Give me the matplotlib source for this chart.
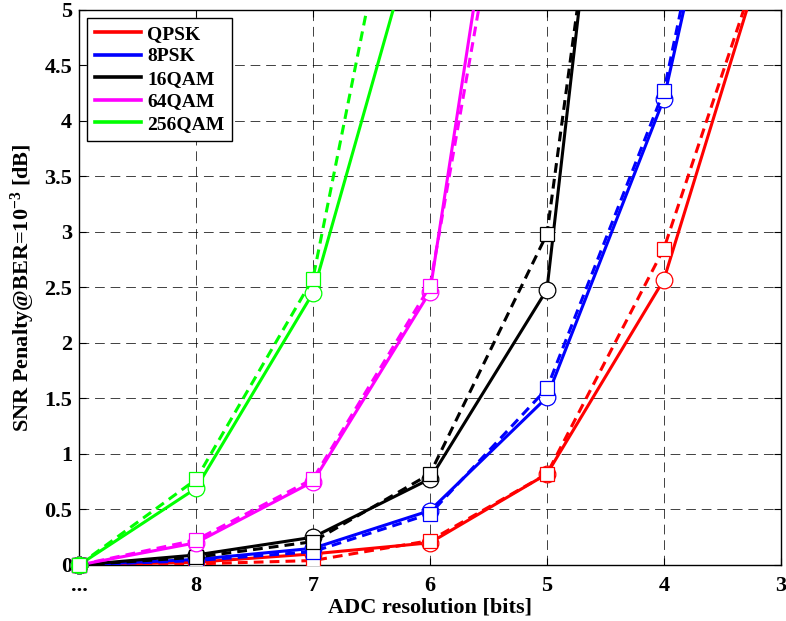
#==================================================================================================
# IMPORTING LIBRARIES
#==================================================================================================
import numpy as np
import matplotlib
matplotlib.use("Agg")
import matplotlib.pyplot as plt
import matplotlib as mpl
from matplotlib.lines import Line2D

#==================================================================================================
# DATA
#==================================================================================================
bits = [9, 8, 7, 6, 5, 4, 3]                     # 9 stands for "..." (unquantized)
tick_labels = ["...", "8", "7", "6", "5", "4", "3"]
yticks = [0, 0.5, 1, 1.5, 2, 2.5, 3, 3.5, 4, 4.5, 5]
ytick_labels = ["0", "0.5", "1", "1.5", "2", "2.5", "3", "3.5", "4", "4.5", "5"]

Label = ["QPSK", "8PSK", "16QAM", "64QAM", "256QAM"]
Colors = ["#ff0000", "#0000ff", "#000000", "#ff00ff", "#00ff00"]

# solid lines with circles
qpsk_sim = [0, 0.025, 0.10, 0.20, 0.82, 2.57, 6.0]
psk8_sim = [0, 0.05, 0.15, 0.49, 1.51, 4.20, 8.9]
qam16_sim = [0, 0.09, 0.25, 0.775, 2.48, 11.7]
qam64_sim = [0, 0.20, 0.75, 2.46, 9.3]
qam256_sim = [0, 0.69, 2.45, 6.17]

# dashed lines with squares
qpsk_th = [0, 0.01, 0.04, 0.22, 0.82, 2.85, 6.0]
psk8_th = [0, 0.04, 0.12, 0.46, 1.59, 4.27, 9.3]
qam16_th = [0, 0.07, 0.21, 0.82, 2.98, 10.8]
qam64_th = [0, 0.225, 0.775, 2.51, 8.5]
qam256_th = [0, 0.77, 2.58, 7.84]

Sim = [qpsk_sim, psk8_sim, qam16_sim, qam64_sim, qam256_sim]
Th = [qpsk_th, psk8_th, qam16_th, qam64_th, qam256_th]

#==================================================================================================
#  PLOT
#==================================================================================================
mpl.rcParams['font.family'] = 'Liberation Serif'
mpl.rcParams['font.weight'] = 'bold'
mpl.rcParams['font.size'] = 16.0
mpl.rcParams['mathtext.fontset'] = 'custom'
mpl.rcParams['mathtext.rm'] = 'Liberation Serif:bold'
mpl.rcParams['mathtext.bf'] = 'Liberation Serif:bold'
mpl.rcParams['mathtext.default'] = 'rm'

fig = plt.figure(figsize=(7.86, 6.21), dpi=100)
ax = fig.add_axes([0.1005, 0.0902, 0.893, 0.894])

for i in range(len(Label)):
  n = len(Sim[i])
  ax.plot(bits[:n], Sim[i], '-', color=Colors[i], lw=2.2, marker='o', ms=12,
          mfc='white', mec=Colors[i], mew=0.9, zorder=3)
  ax.plot(bits[:n], Th[i], color=Colors[i], lw=2.2, ls=(0, (3.2, 2.0)), marker='s', ms=9.5,
          mfc='white', mec=Colors[i], mew=0.9, zorder=3)
  # start point sits on the axes corner: draw its markers unclipped (MATLAB style)
  ax.plot(bits[:1], Sim[i][:1], ls='none', marker='o', ms=12, mfc='white',
          mec=Colors[i], mew=0.9, zorder=4, clip_on=False)
  ax.plot(bits[:1], Th[i][:1], ls='none', marker='s', ms=9.5, mfc='white',
          mec=Colors[i], mew=0.9, zorder=4, clip_on=False)

ax.set_xlim(9, 3)
ax.set_ylim(0, 5)
ax.set_xticks(bits)
ax.set_xticklabels(tick_labels)
ax.set_yticks(yticks)
ax.set_yticklabels(ytick_labels)
ax.tick_params(direction='in', top=True, right=True, length=5, width=0.8, labelsize=16)
ax.tick_params(axis='x', pad=8)
ax.tick_params(axis='y', pad=5)
ax.grid(True, color='k', lw=0.7, ls=(0, (10, 6)), alpha=0.75)
ax.set_axisbelow(True)
for s in ax.spines.values():
  s.set_linewidth(1.0)

ax.set_xlabel("ADC resolution [bits]", fontsize=16, fontweight='bold', labelpad=1)
ax.set_ylabel(r"SNR Penalty@BER=10$^{-3}$ [dB]", fontsize=16, fontweight='bold', labelpad=5)

leg_handles = [Line2D([0], [0], color=c, lw=2.6) for c in Colors]
leg = ax.legend(leg_handles, Label, loc='upper left', fontsize=14, fancybox=False,
                edgecolor='k', framealpha=1, handlelength=2.4, borderaxespad=0.4,
                labelspacing=0.25, handletextpad=0.3, borderpad=0.4)
leg.get_frame().set_linewidth(1.0)
leg.set_zorder(10)

fig.savefig("out.png", dpi=100)
